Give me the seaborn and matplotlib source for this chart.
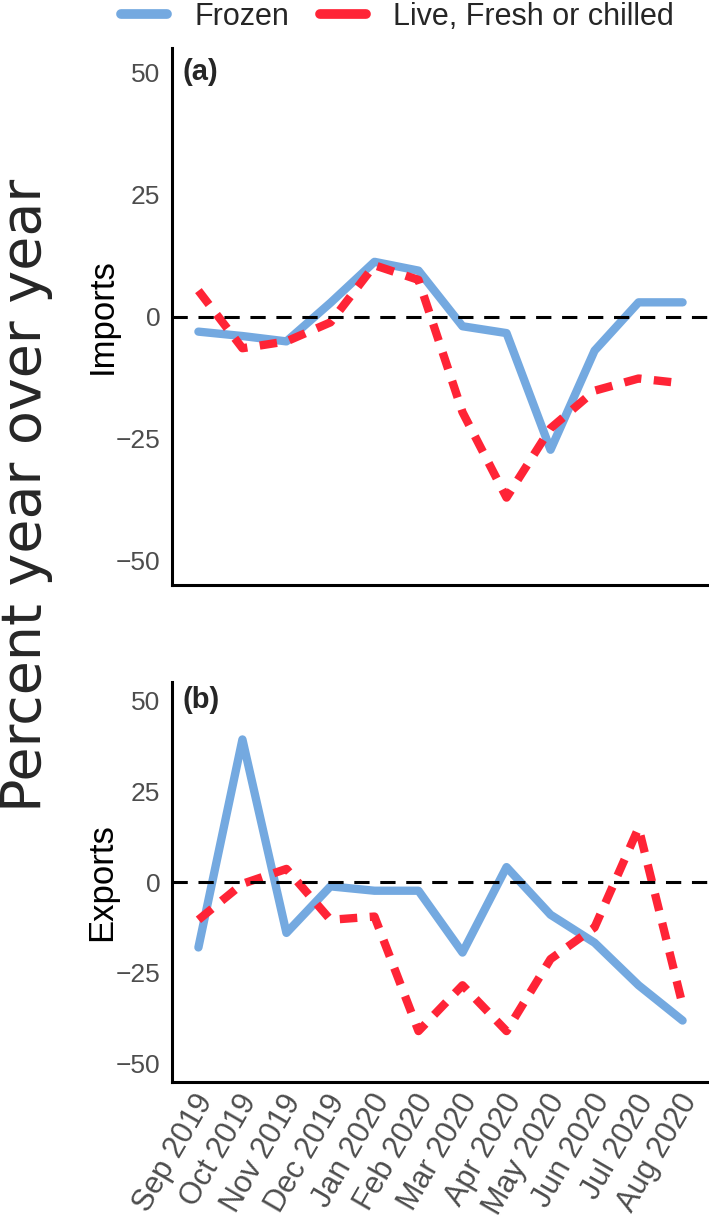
import matplotlib
matplotlib.use('Agg')
import matplotlib.pyplot as plt
import matplotlib.transforms as mtransforms
from matplotlib import font_manager
from matplotlib.lines import Line2D
import pandas as pd
import seaborn as sns

# Data (percent change year over year)
months = ['Sep 2019', 'Oct 2019', 'Nov 2019', 'Dec 2019', 'Jan 2020', 'Feb 2020',
          'Mar 2020', 'Apr 2020', 'May 2020', 'Jun 2020', 'Jul 2020', 'Aug 2020']
imports_frozen = [-3.1, -4.0, -5.1, 2.8, 11.2, 9.4, -2.0, -3.4, -27.3, -7.0, 2.9, 2.9]
imports_fresh = [5.3, -6.5, -5.1, -1.2, 10.5, 7.5, -19.6, -37.1, -22.9, -15.2, -12.7, -13.7]
exports_frozen = [-18.0, 39.2, -14.0, -1.2, -2.4, -2.4, -19.4, 4.1, -9.0, -16.7, -28.4, -38.1]
exports_fresh = [-10.4, -0.5, 3.6, -10.4, -9.5, -41.0, -28.4, -41.0, -21.2, -12.5, 14.9, -33.8]
series_names = ['Frozen', 'Live, Fresh or chilled']
colors = {'Frozen': '#74A9E0', 'Live, Fresh or chilled': '#FF2436'}

sns.set_style('white')
names = {f.name for f in font_manager.fontManager.ttflist}
narrow = 'Liberation Sans Narrow' if 'Liberation Sans Narrow' in names else 'Liberation Sans'
plt.rcParams['font.family'] = ['Liberation Sans', 'DejaVu Sans']


def make_df(frozen, fresh):
    rows = []
    for i, m in enumerate(months):
        rows.append({'pos': i, 'month': m, 'type': series_names[0], 'value': frozen[i]})
    for i, m in enumerate(months):
        rows.append({'pos': i, 'month': m, 'type': series_names[1], 'value': fresh[i]})
    return pd.DataFrame(rows)


df_imp = make_df(imports_frozen, imports_fresh)
df_exp = make_df(exports_frozen, exports_fresh)

fig = plt.figure(figsize=(7.09, 12.25), dpi=100)
ax1 = fig.add_axes([172 / 709, 1 - 585 / 1225, 537 / 709, 537 / 1225])
ax2 = fig.add_axes([172 / 709, 1 - 1082 / 1225, 537 / 709, 400 / 1225])

for ax, d, lab, tag in [(ax1, df_imp, 'Imports', '(a)'), (ax2, df_exp, 'Exports', '(b)')]:
    sns.lineplot(data=d, x='pos', y='value', hue='type', style='type',
                 hue_order=series_names, style_order=series_names,
                 palette=colors, dashes={'Frozen': '', 'Live, Fresh or chilled': (2.1, 1.5)},
                 lw=6, legend=False, ax=ax)
    ax.axhline(0, color='black', lw=2.2, ls=(0, (5, 3.5)), zorder=5)
    ax.set_xlim(-0.6, 11.6)
    ax.set_ylim(-55, 55)
    ax.set_yticks([-50, -25, 0, 25, 50])
    ax.set_xticks(range(len(months)))
    for s in ['top', 'right']:
        ax.spines[s].set_visible(False)
    for s in ['left', 'bottom']:
        ax.spines[s].set_linewidth(2.2)
        ax.spines[s].set_color('black')
    ax.tick_params(axis='both', direction='out', length=5.5, width=1.6, color='#222222',
                   labelsize=19, labelcolor='#4D4D4D', pad=3)
    ax.set_xlabel('')
    ax.set_ylabel(lab, fontsize=25, color='black')
    ax.yaxis.set_label_coords(-0.10, 0.5)
    ax.text(0.02, 50, tag, transform=mtransforms.blended_transform_factory(ax.transAxes, ax.transData),
            fontsize=21, fontweight='bold', va='center', ha='left')

ax1.set_xticklabels([''] * len(months))
ax2.tick_params(axis='x', labelsize=22, pad=5)
ax2.set_xticklabels(months, rotation=60, ha='right', va='center', rotation_mode='anchor')
offset = mtransforms.ScaledTranslation(8 / 100, 0, fig.dpi_scale_trans)
for t in ax2.get_xticklabels():
    t.set_transform(t.get_transform() + offset)

fig.text(0.036, 0.596, 'Percent year over year', rotation=90, fontsize=40,
         family='DejaVu Sans', va='center', ha='center')

handles = [Line2D([0], [0], color=colors[n], lw=7) for n in series_names]
fig.legend(handles, series_names, loc='center', bbox_to_anchor=(0.561, 0.986), ncol=2,
           frameon=False, handlelength=1.5, handletextpad=0.9, columnspacing=1.0,
           prop={'family': narrow, 'size': 22})

fig.savefig('out.png', dpi=100)
